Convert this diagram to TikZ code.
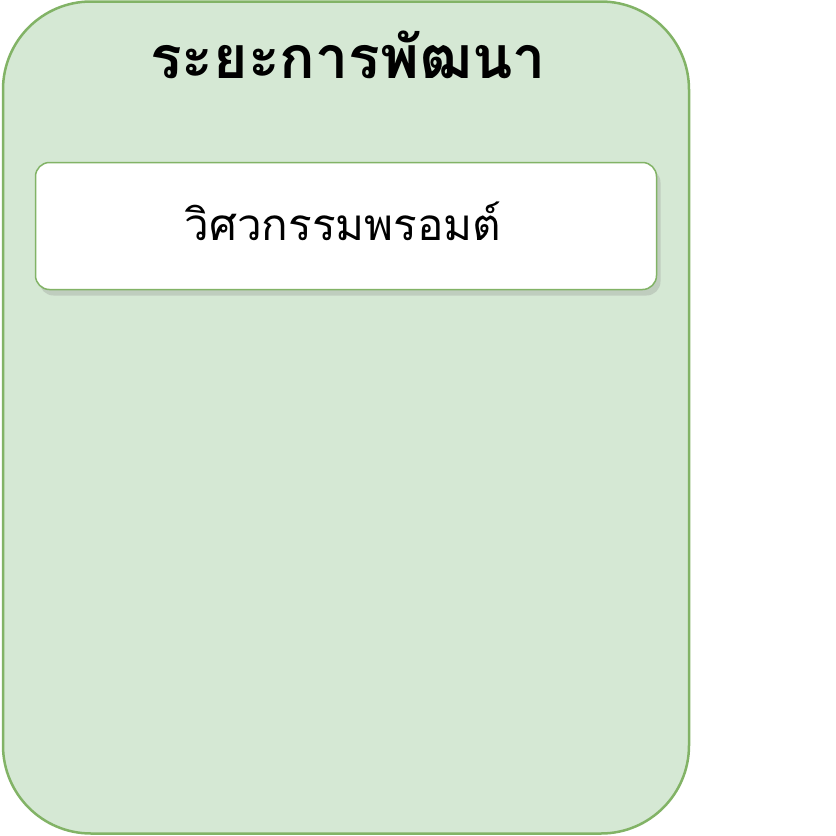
\documentclass[tikz,border=0pt]{standalone}
\usepackage{fontspec}
\usepackage{tikz}
\usetikzlibrary{positioning,shadows}
\newfontfamily\thaifont[Script=Thai]{Loma}
\definecolor{phasefill}{HTML}{D5E8D4}
\definecolor{phasedraw}{HTML}{82B366}

\begin{document}
\begin{tikzpicture}
  [
   x=1pt,y=-1pt,
   phase/.style={rectangle,rounded corners=88pt,draw=phasedraw,fill=phasefill,line width=2.5pt,minimum width=686pt,minimum height=832pt,inner sep=0pt},
   title/.style={font=\thaifont\bfseries\fontsize{59}{64}\selectfont,inner sep=0pt},
   task/.style={rectangle,rounded corners=14pt,draw=phasedraw,fill=white,line width=1.5pt,minimum width=621pt,minimum height=127pt,inner sep=0pt,
     drop shadow={opacity=0.25,shadow xshift=4pt,shadow yshift=-6pt},font=\thaifont\fontsize{44}{50}\selectfont}
  ]
   \useasboundingbox (0,0) rectangle (836,836);
   \node[phase] (dev) at (346,417.5) {};
   \node[title] (devtitle) at (348,55) {ระยะการพัฒนา};
   \node[task] (prompt) at (346,226) {};
   \node[font=\thaifont\fontsize{44}{50}\selectfont,inner sep=0pt] (prompttext) at (343,221) {วิศวกรรมพรอมต์};

\end{tikzpicture}
\end{document}
